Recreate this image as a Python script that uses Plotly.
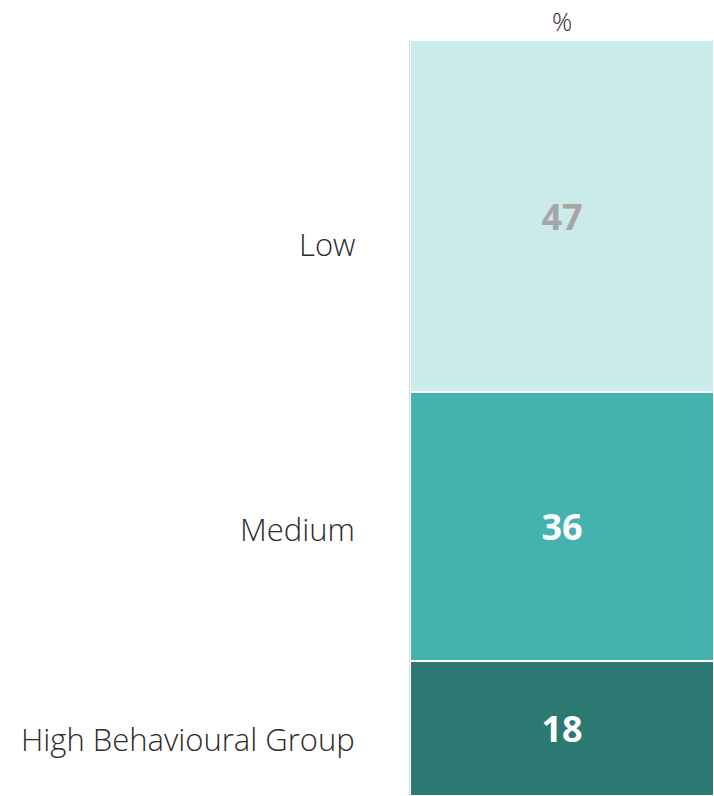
import plotly.graph_objects as go

categories = ["High Behavioural Group", "Medium", "Low"]
values = [18, 36, 47]
colors = ["#2C7872", "#45B3AD", "#CBEAEA"]
text_colors = ["#FFFFFF", "#FFFFFF", "#A6A6A6"]
label_pos = [7.6, 35.7, 73.8]

LABEL_FONT = "Open Sans"

fig = go.Figure()
for cat, v, c, tc in zip(categories, values, colors, text_colors):
    fig.add_trace(go.Bar(
        x=["%"], y=[v], name=cat,
        marker=dict(color=c, line=dict(color="white", width=2)),
        text=[str(v)], textposition="inside", insidetextanchor="middle",
        textfont=dict(color=tc, size=36, family="Open Sans", weight="bold"),
        width=1.0,
    ))

for cat, p in zip(categories, label_pos):
    fig.add_annotation(
        x=0, xref="paper", y=p, yref="y", text=cat, showarrow=False,
        xanchor="right", xshift=-53,
        font=dict(size=31, color="#2B2B2B", family=LABEL_FONT, weight=300),
    )

fig.add_annotation(x=0.5, xref="paper", y=1, yref="paper", yanchor="bottom", yshift=0,
                   text="%", showarrow=False,
                   font=dict(size=25, color="#2B2B2B", family=LABEL_FONT, weight=300))

fig.update_layout(
    barmode="stack", bargap=0,
    width=714, height=796,
    margin=dict(l=410, r=0, t=40, b=0),
    paper_bgcolor="white", plot_bgcolor="white",
    showlegend=False,
    xaxis=dict(visible=False, range=[-0.5, 0.5]),
    yaxis=dict(range=[0, 101], showticklabels=False, showgrid=False, zeroline=False,
               showline=True, linecolor="#D9D9D9", linewidth=1),
    uniformtext=dict(mode=False),
)
fig.write_html("out.html", config={"displayModeBar": False},
               post_script="document.body.style.margin='0';document.body.style.overflow='hidden';")
